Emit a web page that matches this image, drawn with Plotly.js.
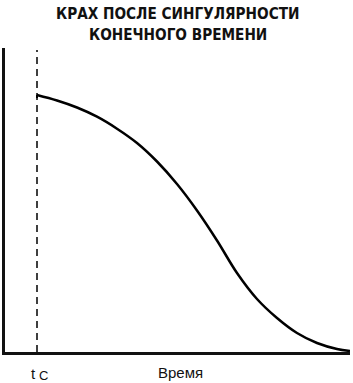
<!DOCTYPE html>
<html><head><meta charset="utf-8">
<script src="https://cdn.plot.ly/plotly-3.0.1.min.js"></script>
<style>html,body{margin:0;padding:0;background:#fff}#chart{width:353px;height:383px}</style>
</head><body><div id="chart"></div>
<script>
const titleLines = ["КРАХ ПОСЛЕ СИНГУЛЯРНОСТИ", "КОНЕЧНОГО ВРЕМЕНИ"];
const xLabel = "Время";
const tcMain = "t";
const tcSub = "C";
const tc = 32;
const time = [32, 52, 72, 92, 112, 132, 152, 172, 192, 212, 232, 252, 272, 292, 312, 332, 345];
const value = [257, 251.5, 244.5, 235.3, 223.3, 209, 190.5, 168, 141.5, 111.5, 79, 53, 34, 19, 9, 3, 1];
const dashY = [0, 302];

const titleFont = {family: 'DejaVu Sans Condensed, Liberation Sans Narrow, sans-serif', size: 15.2, color: '#111', weight: 'bold'};
const labelFont = {family: 'Liberation Sans, Arial, sans-serif', size: 15, color: '#111'};
const traces = [
  {x: [tc, tc], y: dashY, mode: 'lines', line: {color: '#000', width: 1.5, dash: '7px,5px'}, hoverinfo: 'skip'},
  {x: [tc, tc], y: [value[0] - 3, value[0]], mode: 'lines', line: {color: '#000', width: 2}, hoverinfo: 'skip'},
  {x: time, y: value, mode: 'lines', line: {color: '#000', width: 2.5, shape: 'spline', smoothing: 1}, hoverinfo: 'skip'}
];
const layout = {
  width: 353, height: 383,
  margin: {l: 5, r: 3, t: 48, b: 31},
  paper_bgcolor: '#fff', plot_bgcolor: '#fff',
  showlegend: false,
  xaxis: {range: [0, 345], showgrid: false, zeroline: false, showticklabels: false, ticks: '',
    showline: true, linecolor: '#111', linewidth: 3, fixedrange: true},
  yaxis: {range: [0, 304], showgrid: false, zeroline: false, showticklabels: false, ticks: '',
    showline: true, linecolor: '#111', linewidth: 3, fixedrange: true},
  annotations: [
    {x: 0.5, xref: 'paper', y: 1.112, yref: 'paper', text: '<b>' + titleLines[0] + '</b>', showarrow: false, font: titleFont, yanchor: 'middle'},
    {x: 0.5, xref: 'paper', y: 1.043, yref: 'paper', text: '<b>' + titleLines[1] + '</b>', showarrow: false, font: titleFont, yanchor: 'middle'},
    {x: 0.51, xref: 'paper', y: -0.069, yref: 'paper', text: xLabel, showarrow: false, font: labelFont, yanchor: 'middle'},
    {x: tc - 8, xref: 'x', y: -0.072, yref: 'paper', text: tcMain, showarrow: false, font: labelFont, yanchor: 'middle', xanchor: 'left'},
    {x: tc - 0.5, xref: 'x', y: -0.077, yref: 'paper', text: tcSub, showarrow: false,
      font: {family: 'Liberation Sans, Arial, sans-serif', size: 13, color: '#111'}, yanchor: 'middle', xanchor: 'left'}
  ]
};
Plotly.newPlot('chart', traces, layout, {displayModeBar: false, staticPlot: true});
</script></body></html>
